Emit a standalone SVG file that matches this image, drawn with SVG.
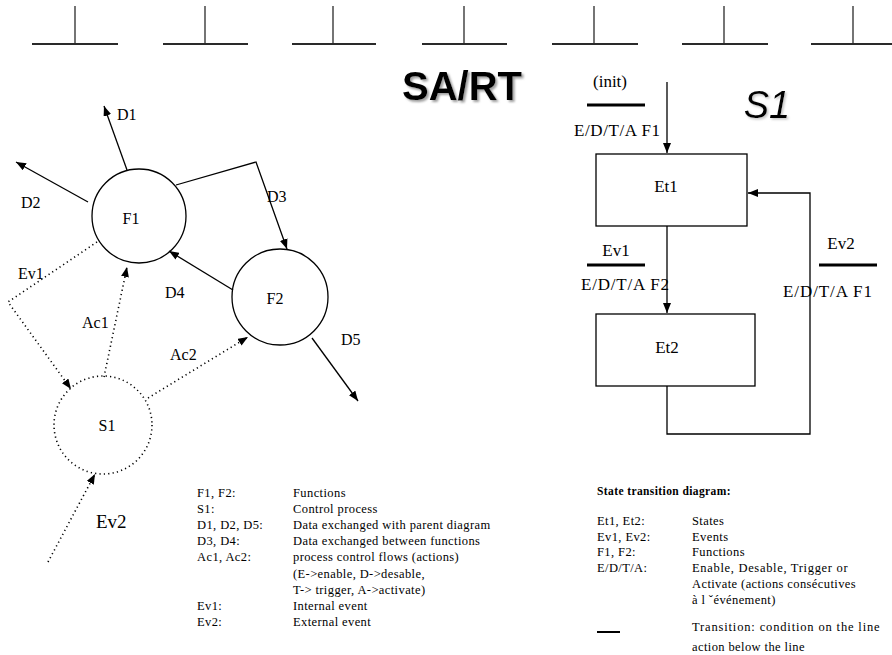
<svg xmlns="http://www.w3.org/2000/svg" width="892" height="655" viewBox="0 0 892 655">
<style>
  .t { font-family: "Liberation Serif", "Times New Roman", serif; fill: #000; }
  .lbl { font-size: 16px; }
  .st { font-size: 17px; }
  .lg { font-size: 12.5px; letter-spacing: 0.4px; }
  .ln { stroke: #000; stroke-width: 1.3; fill: none; }
  .dot { stroke: #000; stroke-width: 1.6; fill: none; stroke-dasharray: 1.2 3.2; }
  .bar { stroke: #000; stroke-width: 3; }
  .tee { stroke: #2a2a2a; fill: none; }
  .head { font-family: "Liberation Sans", Arial, sans-serif; font-weight: bold; }
</style>
<defs>
  <marker id="arr" viewBox="0 0 10 8" refX="10" refY="4" markerWidth="10" markerHeight="8" orient="auto" markerUnits="userSpaceOnUse">
    <path d="M0,0 L10,4 L0,8 z" fill="#000"/>
  </marker>
  <filter id="shadow" x="-10%" y="-20%" width="130%" height="150%">
    <feDropShadow dx="2" dy="2" stdDeviation="0.8" flood-color="#888" flood-opacity="0.8"/>
  </filter>
  <filter id="shadow2" x="-10%" y="-20%" width="130%" height="150%">
    <feDropShadow dx="1.5" dy="1.5" stdDeviation="0.8" flood-color="#aaa" flood-opacity="0.7"/>
  </filter>
</defs>
<rect width="892" height="655" fill="#fff"/>

<g id="tees">
  <g class="tee">
    <line x1="32" y1="44" x2="118" y2="44" stroke-width="2"/><line x1="75" y1="6" x2="75" y2="44" stroke-width="1.3"/>
    <line x1="163" y1="44" x2="248" y2="44" stroke-width="2"/><line x1="205" y1="6" x2="205" y2="44" stroke-width="1.3"/>
    <line x1="292" y1="44" x2="376" y2="44" stroke-width="2"/><line x1="333" y1="6" x2="333" y2="44" stroke-width="1.3"/>
    <line x1="422" y1="44" x2="507" y2="44" stroke-width="2"/><line x1="464" y1="6" x2="464" y2="44" stroke-width="1.3"/>
    <line x1="552" y1="44" x2="638" y2="44" stroke-width="2"/><line x1="594" y1="6" x2="594" y2="44" stroke-width="1.3"/>
    <line x1="682" y1="44" x2="768" y2="44" stroke-width="2"/><line x1="724" y1="6" x2="724" y2="44" stroke-width="1.3"/>
    <line x1="811" y1="44" x2="892" y2="44" stroke-width="2"/><line x1="853" y1="6" x2="853" y2="44" stroke-width="1.3"/>
  </g>
</g>

<g id="title">
  <text class="head" x="462" y="100" font-size="40" text-anchor="middle" fill="#000" filter="url(#shadow)">SA/RT</text>
  <text x="767" y="118" font-family="Liberation Sans, Arial, sans-serif" font-style="italic" font-size="38" text-anchor="middle" fill="#000" filter="url(#shadow2)">S1</text>
</g>

<!-- Left DFD -->
<g id="connectors-left">
  <line class="ln" x1="127" y1="170" x2="104" y2="106" marker-end="url(#arr)"/>
  <line class="ln" x1="88" y1="202" x2="16" y2="162" marker-end="url(#arr)"/>
  <polyline class="ln" points="176,185 256,162 287,249" marker-end="url(#arr)"/>
  <line class="ln" x1="233" y1="290" x2="169" y2="251" marker-end="url(#arr)"/>
  <line class="ln" x1="312" y1="338" x2="358" y2="401" marker-end="url(#arr)"/>
  <polyline class="dot" points="97,242 8,302 71,389" marker-end="url(#arr)"/>
  <line class="dot" x1="104" y1="377" x2="127" y2="267" marker-end="url(#arr)"/>
  <line class="dot" x1="148" y1="398" x2="248" y2="337" marker-end="url(#arr)"/>
  <line class="dot" x1="48" y1="562" x2="95" y2="474" marker-end="url(#arr)"/>
</g>
<g id="labels-left" class="t lbl">
  <text x="117" y="120">D1</text>
  <text x="21" y="208">D2</text>
  <text x="267" y="202">D3</text>
  <text x="165" y="298">D4</text>
  <text x="341" y="345">D5</text>
  <text x="18" y="279">Ev1</text>
  <text x="82" y="328">Ac1</text>
  <text x="170" y="360">Ac2</text>
  <text x="96" y="528" font-size="19">Ev2</text>
</g>
<g id="F1">
  <circle class="ln" cx="139" cy="216" r="47"/>
  <text class="t lbl" x="131" y="224" text-anchor="middle">F1</text>
</g>
<g id="F2">
  <circle class="ln" cx="280" cy="297" r="48"/>
  <text class="t lbl" x="275" y="304" text-anchor="middle">F2</text>
</g>
<g id="S1">
  <circle class="dot" cx="103" cy="425" r="49"/>
  <text class="t lbl" x="107" y="431" text-anchor="middle">S1</text>
</g>

<g id="legend-left" class="t lg">
  <text x="197" y="497">F1, F2:</text><text x="293" y="497">Functions</text>
  <text x="197" y="513">S1:</text><text x="293" y="513">Control process</text>
  <text x="197" y="529">D1, D2, D5:</text><text x="293" y="529">Data exchanged with parent diagram</text>
  <text x="197" y="545">D3, D4:</text><text x="293" y="545">Data exchanged between functions</text>
  <text x="197" y="561">Ac1, Ac2:</text><text x="293" y="561">process control flows (actions)</text>
  <text x="293" y="578">(E-&gt;enable, D-&gt;desable,</text>
  <text x="293" y="594">T-&gt; trigger, A-&gt;activate)</text>
  <text x="197" y="610">Ev1:</text><text x="293" y="610">Internal event</text>
  <text x="197" y="626">Ev2:</text><text x="293" y="626">External event</text>
</g>

<!-- Right state diagram -->
<g id="connectors-right">
  <line class="ln" x1="667" y1="82" x2="667" y2="153" marker-end="url(#arr)"/>
  <line class="ln" x1="667" y1="226" x2="667" y2="313" marker-end="url(#arr)"/>
  <polyline class="ln" points="667,386 667,434 810,434 810,193 748,193" marker-end="url(#arr)"/>
  <line class="bar" x1="587" y1="105" x2="645" y2="105"/>
  <line class="bar" x1="587" y1="265" x2="645" y2="265"/>
  <line class="bar" x1="819" y1="265" x2="877" y2="265"/>
</g>
<g id="labels-right" class="t st">
  <text x="610" y="87" text-anchor="middle">(init)</text>
  <text x="574" y="136" textLength="86">E/D/T/A F1</text>
  <text x="616" y="256" text-anchor="middle">Ev1</text>
  <text x="581" y="290" textLength="88">E/D/T/A F2</text>
  <text x="841" y="249" text-anchor="middle">Ev2</text>
  <text x="783" y="297" textLength="89">E/D/T/A F1</text>
</g>
<g id="Et1">
  <rect class="ln" x="596" y="154" width="151" height="72"/>
  <text class="t st" x="666" y="192" text-anchor="middle">Et1</text>
</g>
<g id="Et2">
  <rect class="ln" x="596" y="314" width="159" height="72"/>
  <text class="t st" x="667" y="353" text-anchor="middle">Et2</text>
</g>

<g id="legend-right" class="t lg">
  <text x="597" y="495" font-weight="bold" font-size="11.5">State transition diagram:</text>
  <text x="597" y="525">Et1, Et2:</text><text x="692" y="525">States</text>
  <text x="597" y="541">Ev1, Ev2:</text><text x="692" y="541">Events</text>
  <text x="597" y="556">F1, F2:</text><text x="692" y="556">Functions</text>
  <text x="597" y="572">E/D/T/A:</text><text x="692" y="572" textLength="156">Enable, Desable, Trigger or</text>
  <text x="692" y="588" textLength="164">Activate (actions consécutives</text>
  <text x="692" y="604">à l ˇévénement)</text>
  <line x1="597" y1="632" x2="620" y2="632" stroke="#000" stroke-width="2"/>
  <text x="692" y="631" textLength="188">Transition: condition on the line</text>
  <text x="692" y="651">action below the line</text>
</g>
</svg>
